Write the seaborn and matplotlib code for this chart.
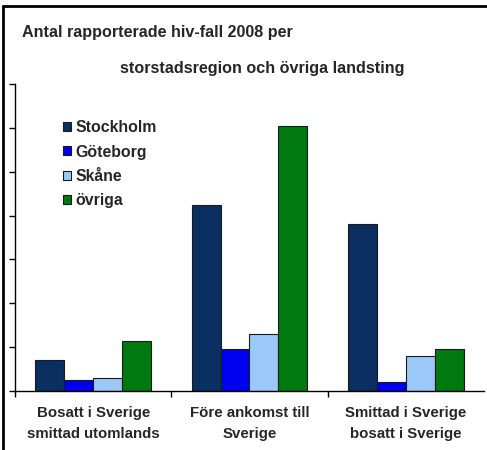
import matplotlib
matplotlib.use("Agg")
import matplotlib.pyplot as plt
from matplotlib.patches import Patch
from matplotlib.lines import Line2D
import seaborn as sns
import pandas as pd

# data (tick step = 20)
kategorier = ["Bosatt i Sverige\nsmittad utomlands",
              "Före ankomst till\nSverige",
              "Smittad i Sverige\nbosatt i Sverige"]
regioner = ["Stockholm", "Göteborg", "Skåne", "övriga"]
stockholm = [14, 85, 76]
goteborg = [5, 19, 4]
skane = [6, 26, 16]
ovriga = [23, 121, 19]
farger = ["#0B2F60", "#0000F0", "#9CC8F8", "#007A10"]

rows = []
for reg, vals in zip(regioner, [stockholm, goteborg, skane, ovriga]):
    for kat, v in zip(kategorier, vals):
        rows.append({"kategori": kat, "region": reg, "antal": v})
df = pd.DataFrame(rows)

sns.set_style("white")
plt.rcParams["font.family"] = ["Liberation Sans", "DejaVu Sans"]

W, H = 487, 450
fig = plt.figure(figsize=(W / 100, H / 100), dpi=100)
ax = fig.add_axes([15 / W, 1 - 391 / H, 469 / W, 307 / H])

sns.barplot(data=df, x="kategori", y="antal", hue="region", order=kategorier,
            hue_order=regioner, palette=farger, width=0.74, saturation=1,
            edgecolor="#1a1a1a", linewidth=0.8, legend=False, ax=ax)

ax.set_xlim(-0.5, 2.5)
ax.set_ylim(0, 140)
ax.set_yticks(range(0, 141, 20))
ax.set_yticklabels([])
ax.tick_params(axis="y", direction="out", length=4, width=1, color="black", left=True)

ax.set_xticks([-0.5, 0.5, 1.5])
ax.set_xticklabels([])
ax.tick_params(axis="x", which="major", direction="out", length=4, width=1,
               color="black", bottom=True)
ax.set_xticks([0, 1, 2], minor=True)
ax.set_xticklabels(kategorier, minor=True, fontsize=10.8, fontweight="bold",
                   linespacing=1.65)
ax.tick_params(axis="x", which="minor", length=0, pad=11)
ax.set_xlabel("")
ax.set_ylabel("")

for s in ["top", "right"]:
    ax.spines[s].set_visible(False)
for s in ["left", "bottom"]:
    ax.spines[s].set_color("black")
    ax.spines[s].set_linewidth(1)

# legend
handles = [Patch(facecolor=c, edgecolor="#1a1a1a", linewidth=0.8) for c in farger]
fig.legend(handles, regioner, loc="upper left",
           bbox_to_anchor=(63 / W, 1 - 120 / H), frameon=False,
           prop={"size": 11.4, "weight": "bold"}, handlelength=0.5,
           handleheight=0.5, handletextpad=0.3, labelspacing=0.6,
           borderpad=0, borderaxespad=0)

# title
fig.text(22 / W, 1 - 32 / H, "Antal rapporterade hiv-fall 2008 per",
         fontsize=11.6, fontweight="bold", ha="left", va="center")
fig.text(262 / W, 1 - 68 / H, "storstadsregion och övriga landsting",
         fontsize=11.6, fontweight="bold", ha="center", va="center")

# outer frame (top and left)
fig.add_artist(Line2D([3 / W, 1], [1 - 6 / H, 1 - 6 / H], color="black", linewidth=2))
fig.add_artist(Line2D([3 / W, 3 / W], [0, 1 - 6 / H], color="black", linewidth=2))

fig.savefig("out.png", dpi=100)
